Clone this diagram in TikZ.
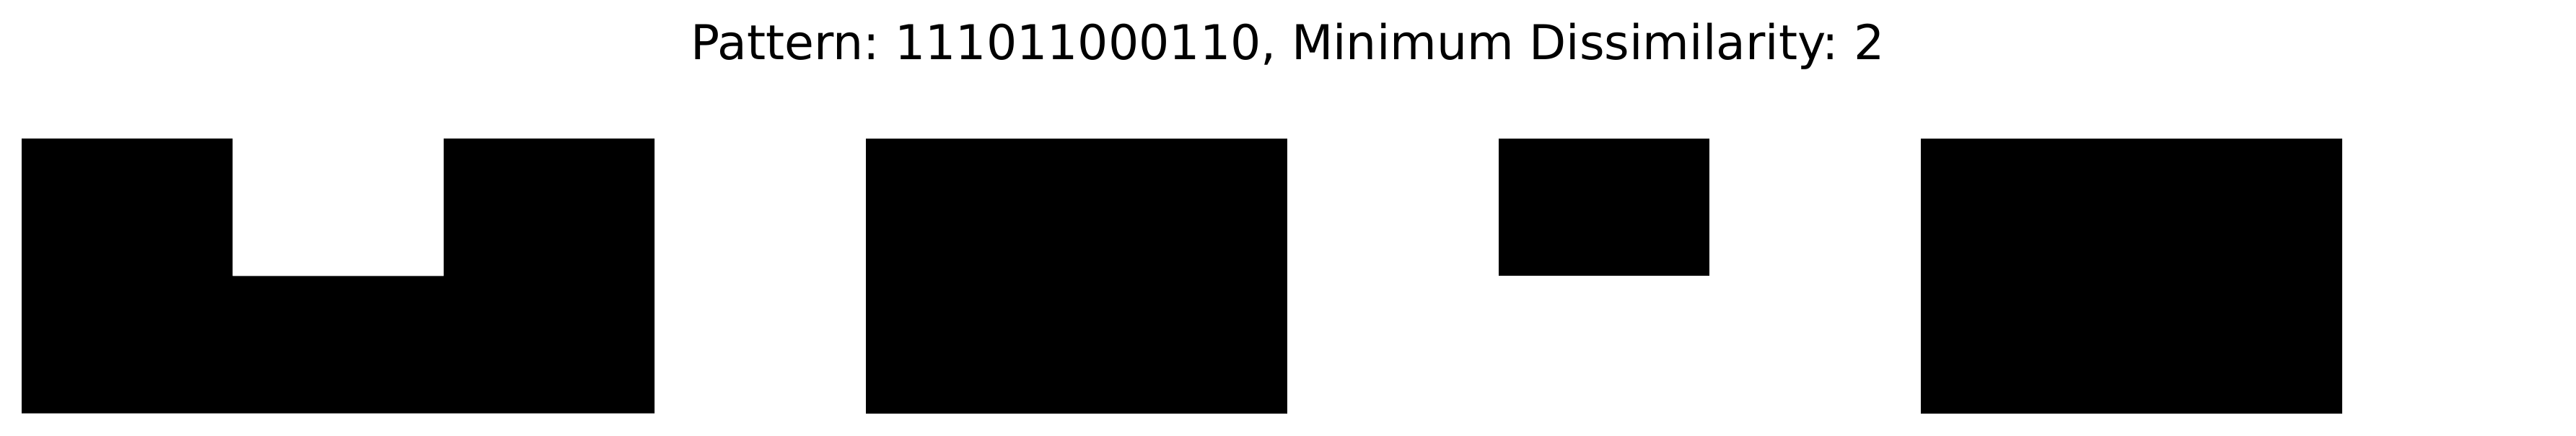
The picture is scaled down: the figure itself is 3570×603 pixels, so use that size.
\documentclass[tikz,border=0pt]{standalone}
\usepackage{fontspec}
\setmainfont{DejaVu Sans}
\frenchspacing
\begin{document}
\begin{tikzpicture}[x=1pt,y=1pt,cell/.style={fill=black,draw=none}]
\useasboundingbox[fill=white] (0,0) rectangle (3570,603);
% title
\node[anchor=base,inner sep=0pt,font=\fontsize{66.5}{74}\selectfont] (title) at (1784.6,520.7) {Pattern: 111011000110, Minimum Dissimilarity: 2};
% block 1: columns 1-3, top middle cell empty
\fill[cell] (30,30.3) -- (907.2,30.3) -- (907.2,411) -- (614.8,411) -- (614.8,220.65) -- (322.4,220.65) -- (322.4,411) -- (30,411) -- cycle;
% block 2: columns 5-6
\fill[cell] (1199.6,30.3) rectangle (1784.4,411);
% block 3: column 8 top only
\fill[cell] (2076.8,220.65) rectangle (2369.2,411);
% block 4: columns 10-11
\fill[cell] (2661.6,30.3) rectangle (3246.4,411);
\end{tikzpicture}
\end{document}
